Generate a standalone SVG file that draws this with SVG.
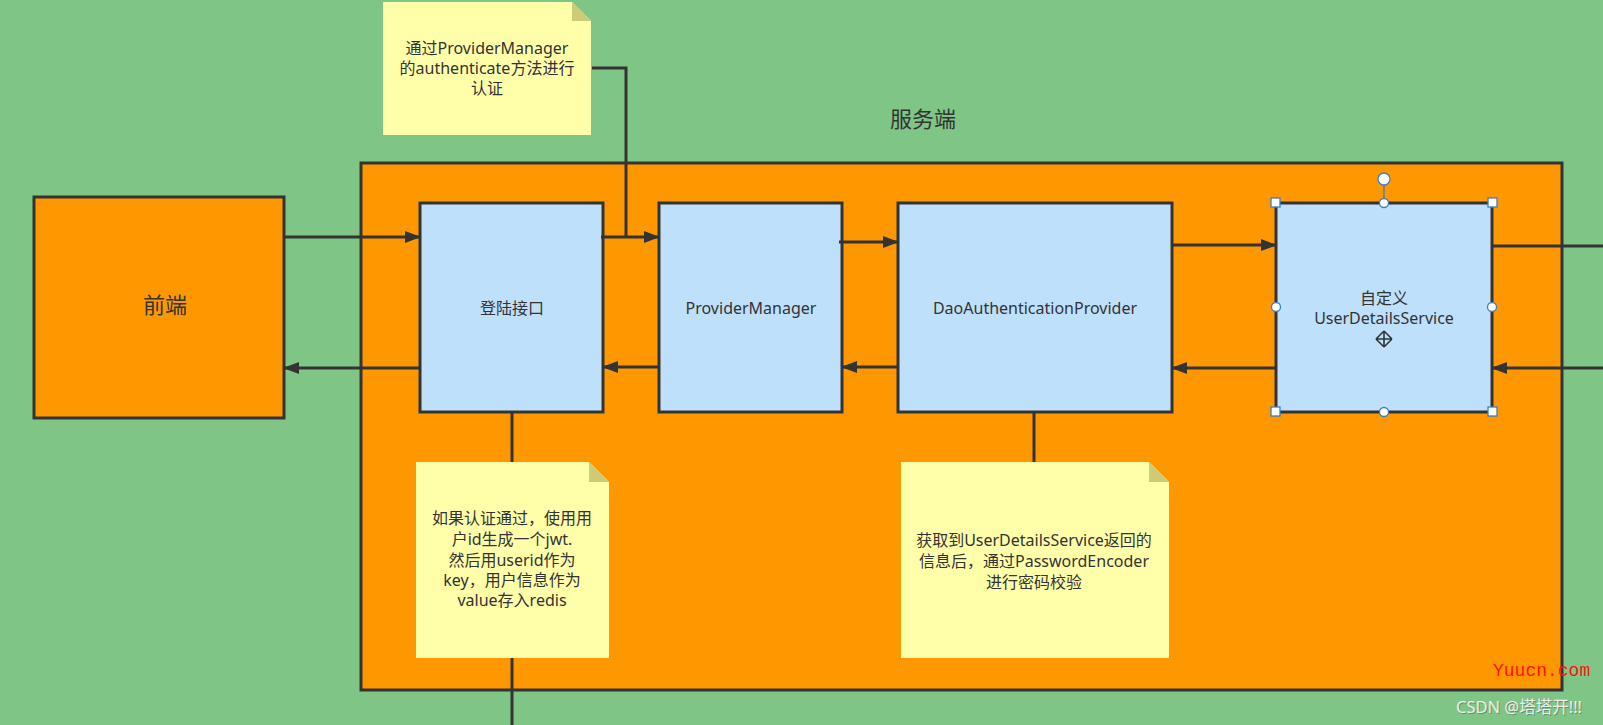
<svg xmlns="http://www.w3.org/2000/svg" width="1603" height="725" viewBox="0 0 1603 725">
<defs>
<style>
.t{font-family:"Noto Sans","Noto Sans CJK SC",sans-serif;fill:#333;text-anchor:middle;dominant-baseline:central}
.box{fill:#BEE0FB;stroke:#333;stroke-width:3}
.note{fill:#FFFFAA}
.fold{fill:#CCCC77}
.ln{fill:none;stroke:#333;stroke-width:3}
.h{fill:#fff;stroke:#3C7FC0;stroke-width:1.3}
</style>
<marker id="ah" markerUnits="userSpaceOnUse" markerWidth="16" markerHeight="12" viewBox="0 0 16 12" refX="15" refY="6" orient="auto">
<path d="M0,0 L16,6 L0,12 Z" fill="#333"/>
</marker>
</defs>
<rect width="1603" height="725" fill="#7FC686"/>
<text class="t" x="923" y="118" font-size="22">服务端</text>
<rect id="server" x="361" y="163" width="1201" height="527" fill="#FF9800" stroke="#333" stroke-width="3"/>

<g id="frontend">
<rect x="34" y="197" width="250" height="221" fill="#FF9800" stroke="#333" stroke-width="3"/>
<text class="t" x="165" y="304" font-size="22">前端</text>
</g>
<g id="login">
<rect class="box" x="420" y="203" width="183" height="209"/>
<text class="t" x="512" y="308" font-size="16">登陆接口</text>
</g>
<g id="providerManager">
<rect class="box" x="659" y="203" width="183" height="209"/>
<text class="t" x="751" y="308" font-size="16">ProviderManager</text>
</g>
<g id="daoProvider">
<rect class="box" x="898" y="203" width="274" height="209"/>
<text class="t" x="1035" y="308" font-size="16">DaoAuthenticationProvider</text>
</g>
<g id="userDetailsService">
<rect class="box" x="1276" y="203" width="216" height="209" stroke="#2E4A6A"/>
<text class="t" x="1384" y="298" font-size="16">自定义</text>
<text class="t" x="1384" y="318" font-size="16">UserDetailsService</text>
</g>

<g id="note1">
<path class="note" d="M383,2 H572 L591,21 V135 H383 Z"/>
<path class="fold" d="M572,2 L591,21 H572 Z"/>
<text class="t" x="487" y="48" font-size="16">通过ProviderManager</text>
<text class="t" x="487" y="68" font-size="16">的authenticate方法进行</text>
<text class="t" x="487" y="88" font-size="16">认证</text>
</g>
<g id="note2">
<path class="note" d="M416,462 H589 L609,482 V658 H416 Z"/>
<path class="fold" d="M589,462 L609,482 H589 Z"/>
<text class="t" x="512" y="518" font-size="16">如果认证通过，使用用</text>
<text class="t" x="512" y="539" font-size="16">户id生成一个jwt.</text>
<text class="t" x="512" y="560" font-size="16">然后用userid作为</text>
<text class="t" x="512" y="580" font-size="16">key，用户信息作为</text>
<text class="t" x="512" y="600" font-size="16">value存入redis</text>
</g>
<g id="note3">
<path class="note" d="M901,462 H1149 L1169,482 V658 H901 Z"/>
<path class="fold" d="M1149,462 L1169,482 H1149 Z"/>
<text class="t" x="1034" y="540" font-size="16">获取到UserDetailsService返回的</text>
<text class="t" x="1034" y="561" font-size="16">信息后，通过PasswordEncoder</text>
<text class="t" x="1034" y="582" font-size="16">进行密码校验</text>
</g>

<g id="connectors">
<path class="ln" d="M284,237 H420" marker-end="url(#ah)"/>
<path class="ln" d="M420,368 H284" marker-end="url(#ah)"/>
<path class="ln" d="M601,237 H659" marker-end="url(#ah)"/>
<path class="ln" d="M659,367 H603" marker-end="url(#ah)"/>
<path class="ln" d="M839,242 H898" marker-end="url(#ah)"/>
<path class="ln" d="M898,367 H842" marker-end="url(#ah)"/>
<path class="ln" d="M1172,245 H1276" marker-end="url(#ah)"/>
<path class="ln" d="M1276,368 H1172" marker-end="url(#ah)"/>
<path class="ln" d="M1492,246 H1603"/>
<path class="ln" d="M1603,368 H1492" marker-end="url(#ah)"/>
<path class="ln" d="M592,68 H626 V237"/>
<path class="ln" d="M512,412 V462"/>
<path class="ln" d="M512,658 V725"/>
<path class="ln" d="M1034,412 V462"/>
</g>

<g id="selection">
<line x1="1384" y1="179" x2="1384" y2="203" stroke="#3C7FC0" stroke-width="1.3"/>
<circle class="h" cx="1384" cy="179" r="6"/>
<circle class="h" cx="1384" cy="203" r="4.5"/>
<circle class="h" cx="1384" cy="412" r="4.5"/>
<circle class="h" cx="1276" cy="307" r="4.5"/>
<circle class="h" cx="1492" cy="307" r="4.5"/>
<rect class="h" x="1271" y="198" width="9" height="9"/>
<rect class="h" x="1488" y="198" width="9" height="9"/>
<rect class="h" x="1271" y="407" width="9" height="9"/>
<rect class="h" x="1488" y="407" width="9" height="9"/>
<path d="M1376,339 h16 M1384,331 v16 M1376,339 l4,-4 M1376,339 l4,4 M1392,339 l-4,-4 M1392,339 l-4,4 M1384,331 l-4,4 M1384,331 l4,4 M1384,347 l-4,-4 M1384,347 l4,-4" fill="none" stroke="#333" stroke-width="1.6"/>
</g>

<text x="1493" y="676" font-family="'Liberation Mono',monospace" font-size="18" fill="#FF1010">Yuucn.com</text>
<text x="1456" y="713" font-family="'Noto Sans','Noto Sans CJK SC',sans-serif" font-size="16.5" fill="#555" opacity="0.5" transform="translate(1,1)">CSDN @塔塔开!!!</text>
<text x="1456" y="713" font-family="'Noto Sans','Noto Sans CJK SC',sans-serif" font-size="16.5" fill="#EEEEEE">CSDN @塔塔开!!!</text>
</svg>
